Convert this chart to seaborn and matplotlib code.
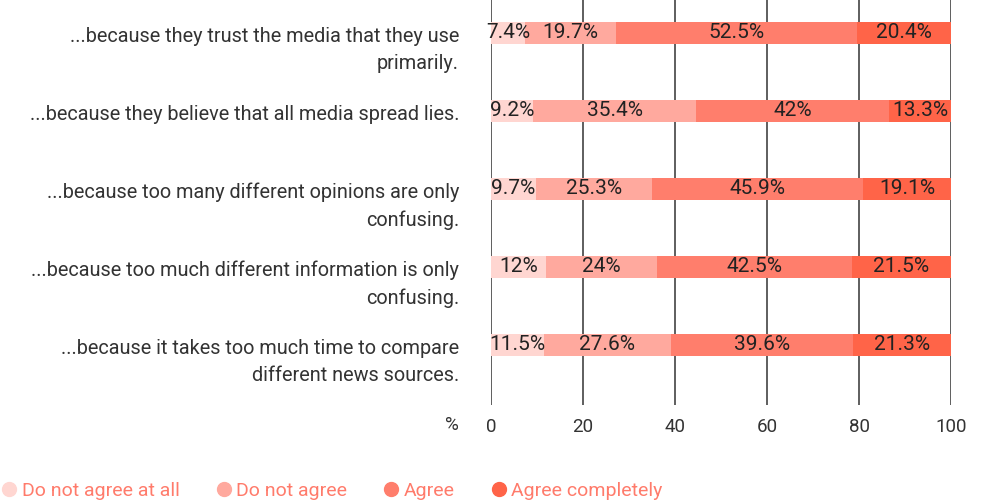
import matplotlib
matplotlib.use("Agg")
import matplotlib.pyplot as plt
from matplotlib.lines import Line2D
import matplotlib.transforms as mtransforms
import seaborn as sns
import pandas as pd
import numpy as np

statements = [
    "...because they trust the media that they use\nprimarily.",
    "...because they believe that all media spread lies.",
    "...because too many different opinions are only\nconfusing.",
    "...because too much different information is only\nconfusing.",
    "...because it takes too much time to compare\ndifferent news sources.",
]
answers = ["Do not agree at all", "Do not agree", "Agree", "Agree completely"]
not_at_all = [7.4, 9.2, 9.7, 12, 11.5]
not_agree = [19.7, 35.4, 25.3, 24, 27.6]
agree = [52.5, 42, 45.9, 42.5, 39.6]
completely = [20.4, 13.3, 19.1, 21.5, 21.3]
ticks = [0, 20, 40, 60, 80, 100]

colors = ["#ffd6d1", "#ffa99e", "#ff7e6c", "#ff6448"]
ink = "#333333"
legend_ink = "#ff7b6b"

sns.set_theme(style="white")
plt.rcParams["font.family"] = ["Roboto", "DejaVu Sans"]

series = [not_at_all, not_agree, agree, completely]
vals = np.array(series)
cum = np.cumsum(vals, axis=0)

fig = plt.figure(figsize=(9.85, 5.04), dpi=100)
ax = fig.add_axes([491 / 985, 1 - 405 / 504, 460 / 985, 405 / 504])

for x in ticks:
    ax.axvline(x, color=ink, lw=1.1, zorder=0)

# stacked bars: draw cumulative totals from the widest down
for i in range(len(answers) - 1, -1, -1):
    df = pd.DataFrame({"statement": statements, "total": cum[i]})
    sns.barplot(data=df, y="statement", x="total", color=colors[i],
                saturation=1, width=0.28, orient="h", ax=ax, zorder=2,
                linewidth=0, edgecolor="none")

for i in range(len(answers)):
    for j in range(len(statements)):
        left = cum[i][j] - vals[i][j]
        ax.text(left + vals[i][j] / 2, j, f"{vals[i][j]:g}%", ha="center",
                va="center", fontsize=15, color="#222222", zorder=3)

ax.set_xlim(0, 100)
ax.set_ylim(4.77, -0.42)
ax.set_xticks(ticks)
ax.set_xticklabels([str(t) for t in ticks])
ax.set_xlabel("")
ax.set_ylabel("")
ax.set_yticks([])
ax.tick_params(axis="x", length=0, labelsize=13.5, labelcolor=ink, pad=9)
for s in ax.spines.values():
    s.set_visible(False)

# category labels: first line level with the bar, further lines below
blend = mtransforms.blended_transform_factory(ax.transAxes, ax.transData)
for j, s in enumerate(statements):
    ax.annotate(s, xy=(0, j), xycoords=blend, xytext=(-23, 4.5),
                textcoords="offset points", ha="right", va="top",
                multialignment="right", linespacing=1.55,
                fontsize=14.3, color=ink)

fig.text(459 / 985, 1 - 425 / 504, "%", ha="right", va="center",
         fontsize=13.5, color=ink)

handles = [Line2D([], [], marker="o", linestyle="", markersize=10,
                  markerfacecolor=c, markeredgecolor=c) for c in colors]
leg = fig.legend(handles, answers, loc="lower left", bbox_to_anchor=(-0.018, -0.026),
                 ncol=4, frameon=False, fontsize=14, handletextpad=0.15,
                 columnspacing=1.75, handlelength=1.0)
for t in leg.get_texts():
    t.set_color(legend_ink)

fig.savefig("out.png", dpi=100, facecolor="white")
